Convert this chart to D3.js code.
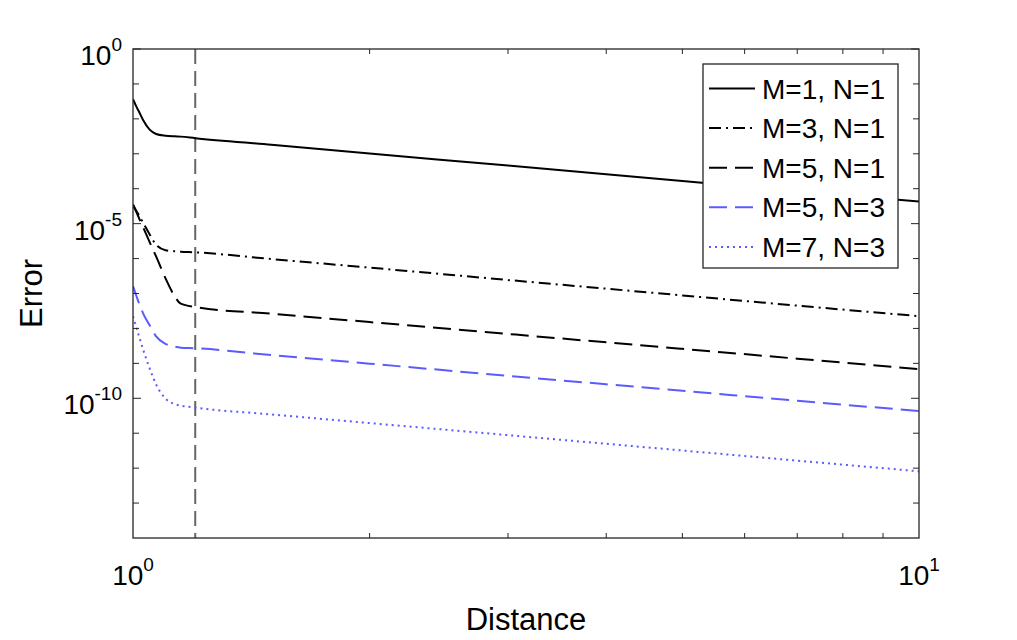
<!DOCTYPE html>
<html>
<head>
<meta charset="utf-8">
<script src="https://cdn.jsdelivr.net/npm/d3@7"></script>
<style>
  body { margin: 0; background: #fff; }
  text { font-family: 'Liberation Sans', Arial, sans-serif; fill: #000; }
</style>
</head>
<body>
<div class="canvas"></div>
<script>
// data
const distance = [1, 1.01, 1.02, 1.03, 1.05, 1.07, 1.1, 1.13, 1.15, 1.2, 1.5, 2, 3, 5, 7, 10];
const errM1N1 = [3.66e-2, 2.24e-2, 1.45e-2, 9.3e-3, 4.9e-3, 3.7e-3, 3.3e-3, 3.16e-3, 3.1e-3, 2.8e-3, 1.81e-3, 1.02e-3, 4.6e-4, 1.66e-4, 8.5e-5, 4.3e-5];
const errM3N1 = [3.5e-5, 2.3e-5, 1.6e-5, 1.07e-5, 4.9e-6, 2.5e-6, 1.74e-6, 1.62e-6, 1.58e-6, 1.51e-6, 9.7e-7, 5.5e-7, 2.44e-7, 8.8e-8, 4.5e-8, 2.24e-8];
const errM5N1 = [3.5e-5, 2.14e-5, 1.29e-5, 7.9e-6, 2.95e-6, 1.15e-6, 2.7e-7, 8.3e-8, 5.1e-8, 4.1e-8, 2.65e-8, 1.52e-8, 6.95e-9, 2.6e-9, 1.36e-9, 6.8e-10];
const errM5N3 = [1.62e-7, 8.5e-8, 4.6e-8, 2.7e-8, 1.23e-8, 5.9e-9, 3.6e-9, 3.0e-9, 2.8e-9, 2.7e-9, 1.72e-9, 9.8e-10, 4.4e-10, 1.64e-10, 8.5e-11, 4.3e-11];
const errM7N3 = [2.24e-8, 1.07e-8, 5.1e-9, 2.5e-9, 7.2e-10, 2.5e-10, 9.8e-11, 6.8e-11, 6.2e-11, 5.4e-11, 3.45e-11, 1.95e-11, 8.8e-12, 3.2e-12, 1.64e-12, 8.1e-13];
const seriesNames = ['M=1, N=1', 'M=3, N=1', 'M=5, N=1', 'M=5, N=3', 'M=7, N=3'];
const cutoff = 1.2;   // vertical dashed marker
const xTickExp = [0, 1];
const yTickExp = [0, -5, -10];

// styles per series
const styles = [
  { color: '#000', dash: null },
  { color: '#000', dash: '12,5,2,5' },
  { color: '#000', dash: '18,8' },
  { color: '#5b5bff', dash: '18,8' },
  { color: '#5b5bff', dash: '2,4' }
];
const series = [errM1N1, errM3N1, errM5N1, errM5N3, errM7N3].map((vals, i) => ({
  name: seriesNames[i],
  style: styles[i],
  values: vals.map((v, j) => ({ d: distance[j], e: v }))
}));

// svg
const svg = d3.select('.canvas')
  .append('svg')
  .attr('width', 1017)
  .attr('height', 640);

const margin = { top: 49, right: 98, bottom: 102, left: 133 };
const graphWidth = 1017 - margin.left - margin.right;
const graphHeight = 640 - margin.top - margin.bottom;

const graph = svg.append('g')
  .attr('transform', `translate(${margin.left}, ${margin.top})`);

const xScale = d3.scaleLog().domain([1, 10]).range([0, graphWidth]);
const yScale = d3.scaleLog().domain([1e-14, 1]).range([graphHeight, 0]);

const axisColor = '#262626';

// clip
svg.append('defs').append('clipPath').attr('id', 'clip')
  .append('rect').attr('width', graphWidth).attr('height', graphHeight);

// vertical dashed line
graph.append('line')
  .attr('x1', xScale(cutoff)).attr('x2', xScale(cutoff))
  .attr('y1', 0).attr('y2', graphHeight)
  .attr('stroke', '#666')
  .attr('stroke-width', 2)
  .attr('stroke-dasharray', '15,7');

// curves
const line = d3.line()
  .x(p => xScale(p.d))
  .y(p => yScale(p.e))
  .curve(d3.curveMonotoneX);

graph.append('g').attr('clip-path', 'url(#clip)')
  .selectAll('path')
  .data(series)
  .enter()
  .append('path')
  .attr('d', s => line(s.values))
  .attr('fill', 'none')
  .attr('stroke', s => s.style.color)
  .attr('stroke-width', 2)
  .attr('stroke-dasharray', s => s.style.dash);

// ticks (inward, on all four sides)
const xMinor = d3.range(2, 10);
const yMinor = d3.range(-13, 0).filter(e => e % 5 !== 0).map(e => Math.pow(10, e));
const yMajor = yTickExp.map(e => Math.pow(10, e));

const tickG = graph.append('g')
  .attr('stroke', axisColor)
  .attr('stroke-width', 1);

tickG.selectAll('.xt')
  .data(xMinor)
  .enter()
  .append('path')
  .attr('d', d => `M${xScale(d)},${graphHeight}v-5M${xScale(d)},0v5`);

tickG.selectAll('.ytmin')
  .data(yMinor)
  .enter()
  .append('path')
  .attr('d', d => `M0,${yScale(d)}h6M${graphWidth},${yScale(d)}h-6`);

tickG.selectAll('.ytmaj')
  .data(yMajor)
  .enter()
  .append('path')
  .attr('d', d => `M0,${yScale(d)}h8M${graphWidth},${yScale(d)}h-8`);

// frame
graph.append('rect')
  .attr('width', graphWidth)
  .attr('height', graphHeight)
  .attr('fill', 'none')
  .attr('stroke', axisColor)
  .attr('stroke-width', 1.3);

// tick labels with superscripts
const xLab = graph.selectAll('.xlab')
  .data(xTickExp)
  .enter()
  .append('text')
  .attr('x', e => xScale(Math.pow(10, e)))
  .attr('y', graphHeight + 47)
  .attr('text-anchor', 'middle')
  .style('font-size', '28px');
xLab.append('tspan').text('10');
xLab.append('tspan').attr('dy', -14).style('font-size', '19px').text(e => e);

const yLab = graph.selectAll('.ylab')
  .data(yTickExp)
  .enter()
  .append('text')
  .attr('x', -11)
  .attr('y', e => yScale(Math.pow(10, e)) + 16)
  .attr('text-anchor', 'end')
  .style('font-size', '28px');
yLab.append('tspan').text('10');
yLab.append('tspan').attr('dy', -14).style('font-size', '19px').text(e => e);

// axis titles
svg.append('text')
  .attr('x', margin.left + graphWidth / 2)
  .attr('y', 630)
  .attr('text-anchor', 'middle')
  .style('font-size', '31px')
  .text('Distance');

svg.append('text')
  .attr('transform', `translate(42, ${margin.top + graphHeight / 2}) rotate(-90)`)
  .attr('text-anchor', 'middle')
  .style('font-size', '31px')
  .text('Error');

// legend
const legend = svg.append('g').attr('transform', 'translate(703, 64)');
legend.append('rect')
  .attr('width', 195)
  .attr('height', 204)
  .attr('fill', '#fff')
  .attr('stroke', axisColor)
  .attr('stroke-width', 1.3);

const rows = legend.selectAll('.row')
  .data(series)
  .enter()
  .append('g')
  .attr('transform', (s, i) => `translate(0, ${24.5 + i * 39.6})`);

rows.append('line')
  .attr('x1', 6).attr('x2', 52)
  .attr('stroke', s => s.style.color)
  .attr('stroke-width', 2)
  .attr('stroke-dasharray', s => s.style.dash);

rows.append('text')
  .attr('x', 59)
  .attr('y', 10)
  .style('font-size', '28px')
  .text(s => s.name);
</script>
</body>
</html>
